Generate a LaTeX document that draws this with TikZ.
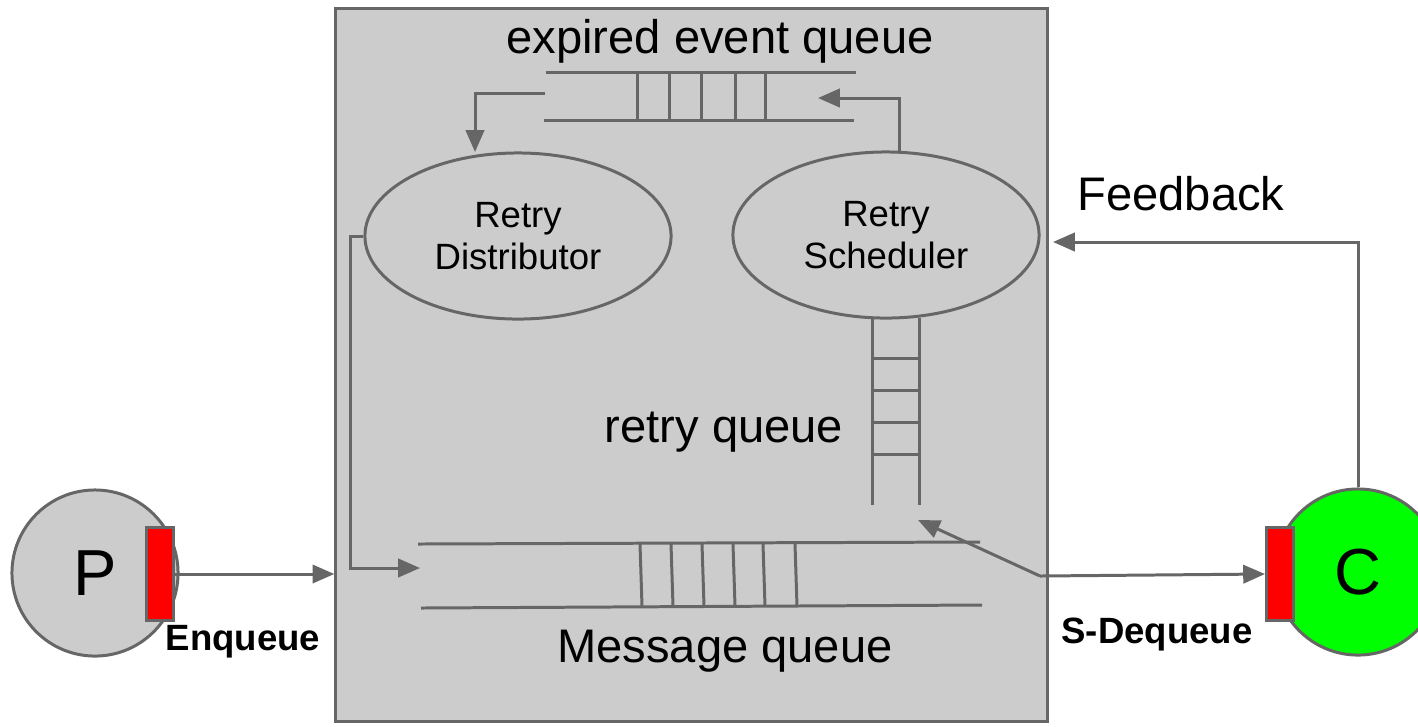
\documentclass[tikz,border=0pt]{standalone}
\usepackage{fontspec}
\setmainfont{Liberation Sans}
\usetikzlibrary{shapes.geometric,arrows.meta}
\definecolor{linegray}{HTML}{666666}
\definecolor{boxgray}{HTML}{CCCCCC}
\definecolor{portred}{HTML}{FF0000}
\definecolor{consgreen}{HTML}{00FF00}

\begin{document}
\begin{tikzpicture}[x=0.01cm,y=-0.01cm,
    line/.style={draw=linegray,line width=0.85pt},
    arr/.style={line,-{Triangle[length=6.2pt,width=5.2pt]}},
    proc/.style={ellipse,draw=linegray,line width=0.85pt,fill=boxgray,minimum width=3.06cm,minimum height=1.66cm,inner sep=0pt,align=center,font=\fontsize{10.4}{12}\selectfont},
    big/.style={font=\fontsize{13.4}{16}\selectfont,inner sep=0pt,anchor=base},
    lbl/.style={font=\fontsize{10.4}{12}\selectfont\bfseries,inner sep=0pt,anchor=base},
    agent/.style={circle,draw=linegray,line width=0.85pt,minimum size=1.66cm,inner sep=0pt,font=\fontsize{18.5}{22}\selectfont},
    port/.style={rectangle,draw=linegray,line width=0.85pt,fill=portred,minimum width=0.27cm,minimum height=0.93cm,inner sep=0pt}]

            \useasboundingbox (0,0) rectangle (1418,726);
            \fill [white] (0,0) rectangle (1418,726);

            \node [rectangle,draw=linegray,line width=0.85pt,fill=boxgray,minimum width=7.11cm,minimum height=7.12cm] (broker) at (691.5,365) {};

            \node [big] (eqlabel) at (720,53) {expired event queue};
            \draw [line] (546,72) -- (856,72);
            \draw [line] (544,120) -- (854,120);
            \foreach \x in {637,669,701,735,765}
                \draw [line] (\x,72) -- (\x,120);

            \node [proc] (dist) at (518,236) {Retry\\Distributor};
            \node [proc] (sched) at (886,235) {Retry\\Scheduler};

            \draw [line] (872,318) -- (872,505);
            \draw [line] (919,318) -- (919,505);
            \foreach \y in {358,390,422,454}
                \draw [line] (872,\y) -- (919,\y);
            \node [big] (rqlabel) at (724,442) {retry queue};

            \draw [line] (418,544) -- (980,542);
            \draw [line] (421,608) -- (982,605);
            \foreach \x in {640,671,702,733,763,795}
                \draw [line] (\x,544) -- (\x+2,606);
            \node [big] (mqlabel) at (725,662) {Message queue};

            \node [agent,fill=boxgray] (prod) at (95,573) {P};
            \node [port] (pport) at (160,574) {};
            \node [agent,fill=consgreen] (cons) at (1358,572) {C};
            \node [port] (cport) at (1280,574) {};

            \coordinate (eqout) at (545,93);
            \coordinate (distin) at (475,152);
            \coordinate (schedout) at (899,152);
            \coordinate (eqin) at (818,98);
            \coordinate (mqin) at (420,568);
            \coordinate (deq) at (1040,576);
            \coordinate (rqin) at (918,520);
            \coordinate (fbin) at (1053,242);

            \draw [arr] (eqout) -| (distin);
            \draw [arr] (schedout) |- (eqin);
            \draw [arr] (dist.west) -- ++(-13,0) |- (mqin);
            \draw [arr] (pport.east) -- (pport.east -| broker.west);
            \draw [arr] (deq) -- (rqin);
            \draw [arr] (deq) -- (cport.west);
            \draw [arr] (cons.north) |- (fbin);

            \node [lbl] (enq) at (243,650) {Enqueue};
            \node [lbl] (sdeq) at (1157,643) {S-Dequeue};
            \node [big] (fb) at (1181,210) {Feedback};
        \end{tikzpicture}
\end{document}
